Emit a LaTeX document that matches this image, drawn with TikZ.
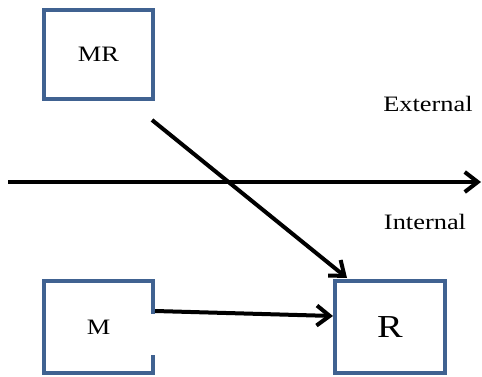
\documentclass[tikz,border=0pt]{standalone}
\usepackage{fontspec}
\setmainfont[FakeStretch=1.2]{Liberation Serif}
\usetikzlibrary{arrows.meta}
\definecolor{boxblue}{RGB}{64,98,145}

\begin{document}
\begin{tikzpicture}[x=1pt, y=-1pt,
    box/.style={draw=boxblue, line width=4pt, fill=white, inner sep=0pt},
    link/.style={line width=4pt, -{Straight Barb[length=13pt,width=20pt,line width=4pt]}},
    lbl/.style={font=\fontsize{22}{26}\selectfont}]
    \useasboundingbox (0,0) rectangle (482,377);

    % Boxes
    \node[box, lbl, minimum width=109pt, minimum height=89pt] (MR) at (98.5,54.5) {MR};
    \node[box, lbl, minimum width=109pt, minimum height=92pt] (M) at (98.5,327) {M};
    \node[box, font=\fontsize{32}{36}\selectfont, minimum width=110pt, minimum height=92pt] (R) at (390,327) {R};
    \draw[white, line width=5pt] (153,314) -- (153,355);

    % Axis
    \coordinate (axl) at (8,182);
    \coordinate (axr) at (481,182);
    \draw[link] (axl) -- (axr);

    % Arrows
    \coordinate (mrout) at (152,120);
    \draw[link] (mrout) -- ([xshift=14pt,yshift=1pt]R.north west);
    \draw[link] ([yshift=16pt]M.east) -- ([yshift=11pt]R.west);

    % Labels
    \node[lbl] (ext) at (428,104) {External};
    \node[lbl] (int) at (425,222) {Internal};
\end{tikzpicture}
\end{document}
